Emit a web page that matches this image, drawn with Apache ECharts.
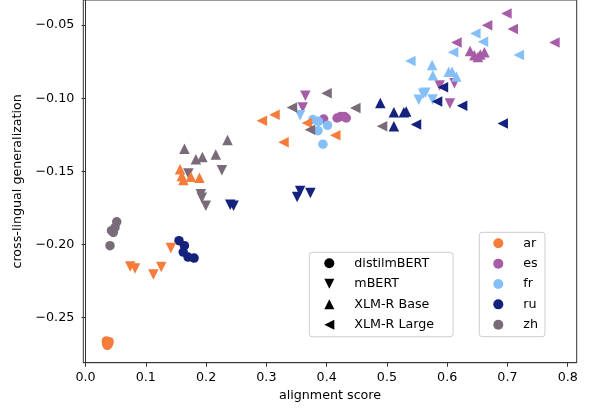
<!DOCTYPE html>
<html><head><meta charset="utf-8">
<script src="https://cdn.jsdelivr.net/npm/echarts@6/dist/echarts.min.js"></script>
<style>html,body{margin:0;padding:0;background:#fff}#c{width:589px;height:416px}</style>
</head><body><div id="c"></div><script>
// ---- data ----
const models = ['distilmBERT', 'mBERT', 'XLM-R Base', 'XLM-R Large'];
const languages = ['ar', 'es', 'fr', 'ru', 'zh'];
const xTicks = [0, 0.1, 0.2, 0.3, 0.4, 0.5, 0.6, 0.7, 0.8];
const yTicks = [-0.25, -0.20, -0.15, -0.10, -0.05];

const ar_distilmBERT = [[0.0345,-0.2660],[0.0390,-0.2665],[0.0360,-0.2690],[0.0350,-0.2680],[0.0380,-0.2680]];
const ar_mBERT = [[0.074,-0.2150],[0.082,-0.2165],[0.1125,-0.2205],[0.1255,-0.2155],[0.1415,-0.2025]];
const ar_XLMRBase = [[0.1568,-0.1486],[0.1623,-0.1559],[0.1596,-0.1532],[0.1746,-0.1537],[0.1889,-0.1544]];
const ar_XLMRLarge = [[0.2925,-0.1153],[0.3135,-0.1112],[0.3284,-0.1301],[0.3673,-0.1169],[0.4143,-0.1253]];

const es_distilmBERT = [[0.395,-0.1142],[0.4173,-0.1135],[0.4233,-0.1124],[0.4292,-0.1124],[0.4325,-0.1135]];
const es_mBERT = [[0.3647,-0.0982],[0.3602,-0.1063],[0.5875,-0.0913],[0.612,-0.0897],[0.6045,-0.1035]];
const es_XLMRBase = [[0.638,-0.0677],[0.645,-0.0705],[0.651,-0.0717],[0.655,-0.0700],[0.6618,-0.0685]];
const es_XLMRLarge = [[0.6983,-0.0421],[0.6663,-0.0500],[0.7088,-0.0527],[0.6153,-0.0618],[0.778,-0.0618]];

const fr_distilmBERT = [[0.3772,-0.1146],[0.3865,-0.1158],[0.4015,-0.1185],[0.3856,-0.1222],[0.3938,-0.1314]];
const fr_mBERT = [[0.356,-0.1117],[0.5528,-0.1010],[0.5638,-0.0963],[0.5758,-0.1008],[0.560,-0.0970]];
const fr_XLMRBase = [[0.575,-0.0772],[0.5762,-0.0842],[0.6025,-0.0818],[0.6082,-0.0818],[0.6153,-0.0852]];
const fr_XLMRLarge = [[0.5389,-0.0745],[0.6098,-0.0686],[0.6468,-0.0557],[0.6594,-0.0614],[0.7188,-0.0704]];

const ru_distilmBERT = [[0.155,-0.1974],[0.164,-0.2008],[0.162,-0.2052],[0.170,-0.2086],[0.180,-0.2093]];
const ru_mBERT = [[0.240,-0.1729],[0.2455,-0.1736],[0.351,-0.1675],[0.356,-0.1634],[0.373,-0.1648]];
const ru_XLMRBase = [[0.489,-0.1033],[0.5115,-0.1095],[0.528,-0.1095],[0.532,-0.1090],[0.5115,-0.1192]];
const ru_XLMRLarge = [[0.5929,-0.0924],[0.5832,-0.1022],[0.6248,-0.1051],[0.5483,-0.1180],[0.6922,-0.1173]];

const zh_distilmBERT = [[0.0405,-0.2008],[0.043,-0.1906],[0.046,-0.1918],[0.0488,-0.1884],[0.0517,-0.1845]];
const zh_mBERT = [[0.1706,-0.1514],[0.2261,-0.1493],[0.1912,-0.1656],[0.1929,-0.1680],[0.1995,-0.1736]];
const zh_XLMRBase = [[0.164,-0.1345],[0.183,-0.1418],[0.1938,-0.1401],[0.216,-0.1384],[0.2355,-0.1286]];
const zh_XLMRLarge = [[0.3424,-0.1063],[0.3724,-0.1216],[0.3998,-0.0965],[0.4475,-0.1067],[0.4919,-0.1192]];

// ---- styling / assembly ----
const points = {
  ar: [ar_distilmBERT, ar_mBERT, ar_XLMRBase, ar_XLMRLarge],
  es: [es_distilmBERT, es_mBERT, es_XLMRBase, es_XLMRLarge],
  fr: [fr_distilmBERT, fr_mBERT, fr_XLMRBase, fr_XLMRLarge],
  ru: [ru_distilmBERT, ru_mBERT, ru_XLMRBase, ru_XLMRLarge],
  zh: [zh_distilmBERT, zh_mBERT, zh_XLMRBase, zh_XLMRLarge]
};
const langColors = {ar: '#f57c3a', es: '#a65ca7', fr: '#86bff8', ru: '#14217d', zh: '#796b78'};
const modelSymbol = ['circle', 'triangle', 'triangle', 'triangle'];
const modelRotate = [0, 180, 0, 90];
const modelSize = [9.5, 10.5, 10.5, 10.5];
const modelIcons = ['circle', 'path://M0,0L10,0L5,10Z', 'path://M5,0L10,10L0,10Z', 'path://M10,0L10,10L0,5Z'];
const FONT = 'DejaVu Sans';
const FS = 12.7;

const series = [];
models.forEach((m, mi) => {
  languages.forEach(l => {
    series.push({
      type: 'scatter', name: l + ' / ' + m, data: points[l][mi],
      symbol: modelSymbol[mi], symbolRotate: modelRotate[mi], symbolSize: modelSize[mi],
      itemStyle: {color: langColors[l], opacity: 1},
      silent: true, emphasis: {disabled: true}, animation: false
    });
  });
});
models.forEach((m, mi) => series.push({type: 'scatter', name: m, data: [], symbol: modelSymbol[mi], itemStyle: {color: '#000', opacity: 1}}));
languages.forEach(l => series.push({type: 'scatter', name: l, data: [], symbol: 'circle', itemStyle: {color: langColors[l], opacity: 1}}));

const legendBase = {
  orient: 'vertical', itemWidth: 40, itemHeight: 10, selectedMode: false,
  borderColor: '#cccccc', borderWidth: 1, borderRadius: 3, backgroundColor: 'rgba(255,255,255,0.8)',
  textStyle: {fontFamily: FONT, fontSize: FS, color: '#000', lineHeight: 14}
};

const chart = echarts.init(document.getElementById('c'), null, {renderer: 'canvas'});
chart.setOption({
  animation: false,
  grid: {left: 83.3, right: 12.3, top: -2, bottom: 53.3, show: true, borderColor: '#333', borderWidth: 1, backgroundColor: 'transparent'},
  xAxis: {
    type: 'value', min: -0.0038, max: 0.8149,
    name: 'alignment score', nameLocation: 'middle', nameGap: 26,
    nameTextStyle: {fontFamily: FONT, fontSize: FS, color: '#000'},
    axisLine: {show: true, lineStyle: {color: '#333', width: 1}},
    axisTick: {show: true, length: 4, customValues: xTicks, lineStyle: {color: '#333'}},
    axisLabel: {customValues: xTicks, formatter: v => v.toFixed(1), margin: 8, fontFamily: FONT, fontSize: FS, color: '#000'},
    splitLine: {show: false}
  },
  yAxis: {
    type: 'value', min: -0.28088, max: -0.03279,
    name: 'cross-lingual generalization', nameLocation: 'middle', nameGap: 57,
    nameTextStyle: {fontFamily: FONT, fontSize: FS, color: '#000'},
    axisLine: {show: true, lineStyle: {color: '#333', width: 1}},
    axisTick: {show: true, length: 4, customValues: yTicks, lineStyle: {color: '#333'}},
    axisLabel: {customValues: yTicks, formatter: v => (v < 0 ? '\u2212' : '') + Math.abs(v).toFixed(2), margin: 9, fontFamily: FONT, fontSize: FS, color: '#000'},
    splitLine: {show: false}
  },
  legend: [
    Object.assign({}, legendBase, {
      left: 309.3, top: 252.3, itemGap: 6.5, padding: [4, 19, 5, 15],
      data: models.map((m, i) => ({name: m, icon: modelIcons[i], itemStyle: {color: '#000', opacity: 1}}))
    }),
    Object.assign({}, legendBase, {
      left: 479.3, top: 232.3, itemGap: 6.35, padding: [4, 7, 5, 14],
      data: languages.map(l => ({name: l, icon: 'circle', itemStyle: {color: langColors[l], opacity: 1}}))
    })
  ],
  series: series
});
</script></body></html>
